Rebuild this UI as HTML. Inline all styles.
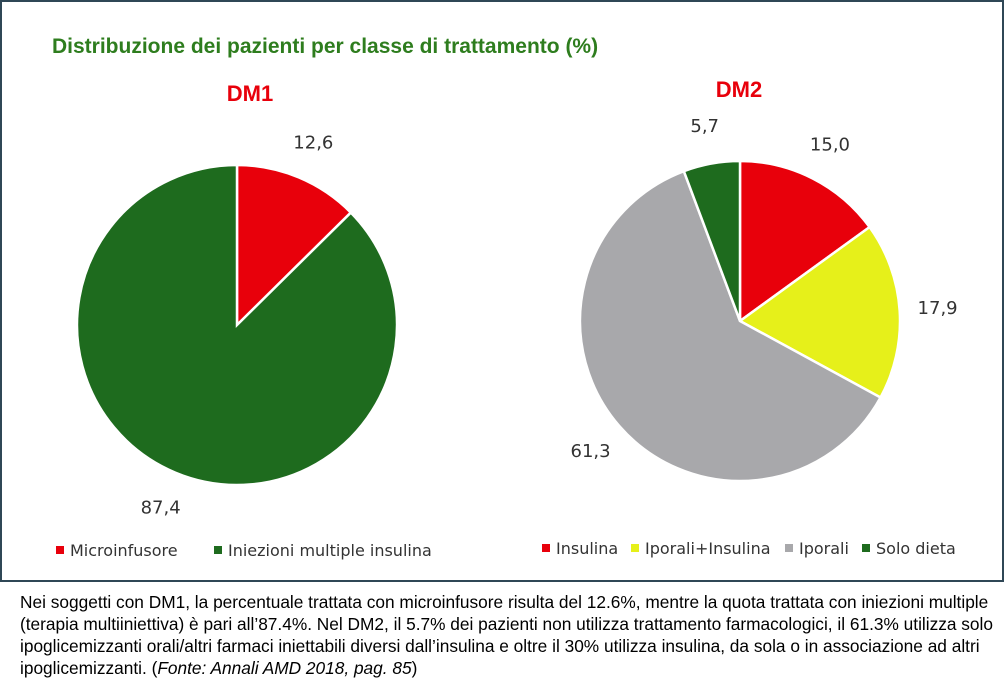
<!DOCTYPE html>
<html><head><meta charset="utf-8"><style>
body{margin:0;width:1004px;height:693px;background:#fff;overflow:hidden;font-family:"Liberation Sans",Arial,sans-serif}
#frame{position:absolute;left:0;top:0;width:1000px;height:578px;border:2px solid #2f4756}
#cap{position:absolute;left:20px;top:591px;font-size:17.3px;line-height:22px;color:#000;width:980px}
svg{position:absolute;left:0;top:0}
</style></head><body>
<div id="frame"></div>
<svg id="s" width="1004" height="582">
<text x="52" y="53" font-size="21" font-weight="bold" fill="#2e7d1e">Distribuzione dei pazienti per classe di trattamento (%)</text>
<text x="250" y="101" font-size="22" font-weight="bold" fill="#e8000b" text-anchor="middle">DM1</text>
<text x="739" y="97" font-size="22" font-weight="bold" fill="#e8000b" text-anchor="middle">DM2</text>
<g id="p1"></g><g id="p2"></g>
<g font-size="16" fill="#333" font-family="'DejaVu Sans',sans-serif">
<rect x="56" y="546" width="8" height="8" fill="#e8000b"/>
<text x="70" y="556">Microinfusore</text>
<rect x="214" y="546" width="8" height="8" fill="#1e6b1e"/>
<text x="228" y="556">Iniezioni multiple insulina</text>
<rect x="542" y="544" width="8" height="8" fill="#e8000b"/>
<text x="556" y="554">Insulina</text>
<rect x="631" y="544" width="8" height="8" fill="#e6f01a"/>
<text x="645" y="554">Iporali+Insulina</text>
<rect x="785" y="544" width="8" height="8" fill="#a8a8ab"/>
<text x="799" y="554">Iporali</text>
<rect x="862" y="544" width="8" height="8" fill="#1e6b1e"/>
<text x="876" y="554">Solo dieta</text>
</g>
</svg>
<div id="cap">Nei soggetti con DM1, la percentuale trattata con microinfusore risulta del 12.6%, mentre la quota trattata con iniezioni multiple (terapia multiiniettiva) è pari all’87.4%. Nel DM2, il 5.7% dei pazienti non utilizza trattamento farmacologici, il 61.3% utilizza solo ipoglicemizzanti orali/altri farmaci iniettabili diversi dall’insulina e oltre il 30% utilizza insulina, da sola o in associazione ad altri ipoglicemizzanti. (<i>Fonte: Annali AMD 2018, pag. 85</i>)</div>
<script>
const dm1Categories=["Microinfusore","Iniezioni multiple insulina"];
const dm1Values=[12.6,87.4];
const dm1Labels=["12,6","87,4"];
const dm2Categories=["Insulina","Iporali+Insulina","Iporali","Solo dieta"];
const dm2Values=[15.0,17.9,61.3,5.7];
const dm2Labels=["15,0","17,9","61,3","5,7"];
const dm1Colors=["#e8000b","#1e6b1e"];
const dm2Colors=["#e8000b","#e6f01a","#a8a8ab","#1e6b1e"];
const NS="http://www.w3.org/2000/svg";
function pie(g,cx,cy,r,vals,labs,cols,cats,prefix,lr){
  const tot=vals.reduce((a,b)=>a+b,0);let acc=0;
  vals.forEach((v,i)=>{
    const a0=acc/tot*2*Math.PI;acc+=v;const a1=acc/tot*2*Math.PI;
    const x0=cx+r*Math.sin(a0),y0=cy-r*Math.cos(a0),x1=cx+r*Math.sin(a1),y1=cy-r*Math.cos(a1);
    const p=document.createElementNS(NS,"path");
    p.setAttribute("d",`M${cx},${cy}L${x0},${y0}A${r},${r} 0 ${a1-a0>Math.PI?1:0} 1 ${x1},${y1}Z`);
    p.setAttribute("fill",cols[i]);p.setAttribute("stroke","#fff");p.setAttribute("stroke-width","2.5");
    
    
    g.appendChild(p);
    const am=(a0+a1)/2;const t=document.createElementNS(NS,"text");
    t.setAttribute("x",cx+lr*Math.sin(am));t.setAttribute("y",cy-lr*Math.cos(am)+6);
    t.setAttribute("text-anchor","middle");t.setAttribute("font-size","18");t.setAttribute("fill","#333");
    t.setAttribute("font-family","'DejaVu Sans',sans-serif");
    t.textContent=labs[i];
    
    
    g.appendChild(t);
  });
}
pie(document.getElementById("p1"),237,325,160,dm1Values,dm1Labels,dm1Colors,dm1Categories,"dm1",198);
pie(document.getElementById("p2"),740,321,160,dm2Values,dm2Labels,dm2Colors,dm2Categories,"dm2",198);
</script>
</body></html>
